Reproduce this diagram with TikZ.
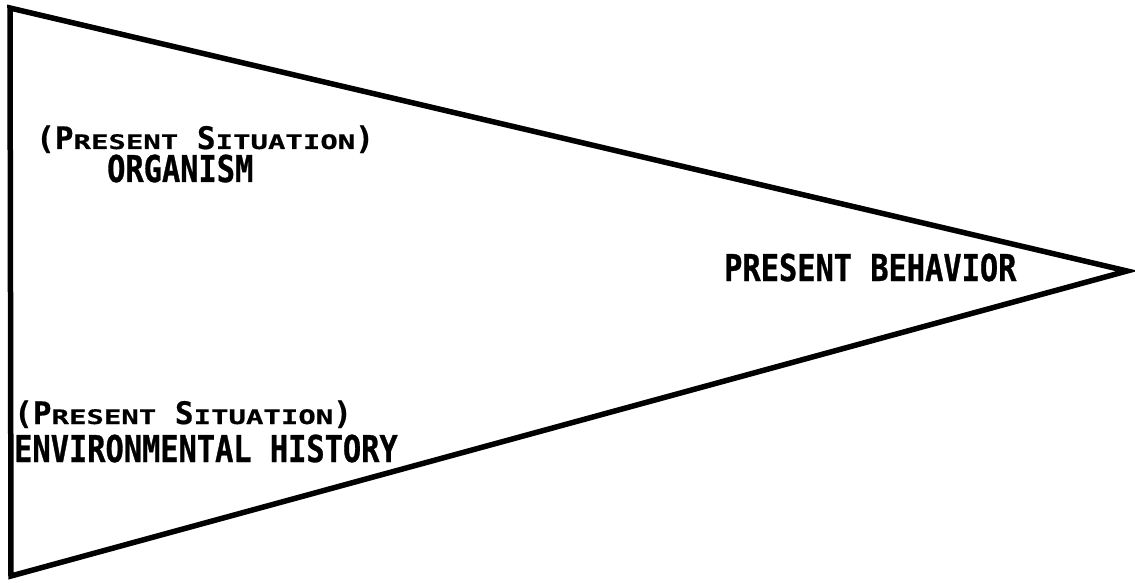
\documentclass[tikz,border=0pt]{standalone}
\usepackage{fontspec}
\newfontfamily\bigfont{DejaVu Sans Mono}[FakeStretch=0.82,FakeBold=0.8]
\newfontfamily\capfont{DejaVu Sans Mono}[FakeStretch=1.0,FakeBold=0.6]
\newfontfamily\smfont{DejaVu Sans Mono}[FakeStretch=1.45,FakeBold=0.6]
\newcommand{\Lg}[1]{{\capfont\bfseries\fontsize{31pt}{33pt}\selectfont #1}}
\newcommand{\Sm}[1]{{\smfont\bfseries\fontsize{20pt}{22pt}\selectfont #1}}
\newcommand{\presit}{\Lg{(P}\Sm{RESENT}\Lg{ S}\Sm{ITUATION}\Lg{)}}
\tikzset{
  edge/.style={line width=5.5pt, line join=miter, black},
  biglabel/.style={anchor=base west, inner sep=0pt, font=\bigfont\bfseries\fontsize{37pt}{40pt}\selectfont},
  sclabel/.style={anchor=base west, inner sep=0pt}
}
\begin{document}
\begin{tikzpicture}[x=1pt,y=-1pt]
\useasboundingbox (0,0) rectangle (1135,583);
\coordinate (tl) at (10,8);
\coordinate (bl) at (11,576);
\coordinate (tip) at (1127,271);
\draw[edge] (tl) -- (bl) -- (tip) -- cycle;
\node[sclabel] (sit1) at (36,149) {\presit};
\node[biglabel] (org) at (107,182) {ORGANISM};
\node[biglabel] (beh) at (724,281) {PRESENT BEHAVIOR};
\node[sclabel] (sit2) at (14,424) {\presit};
\node[biglabel] (env) at (14,462) {ENVIRONMENTAL HISTORY};
\end{tikzpicture}
\end{document}
